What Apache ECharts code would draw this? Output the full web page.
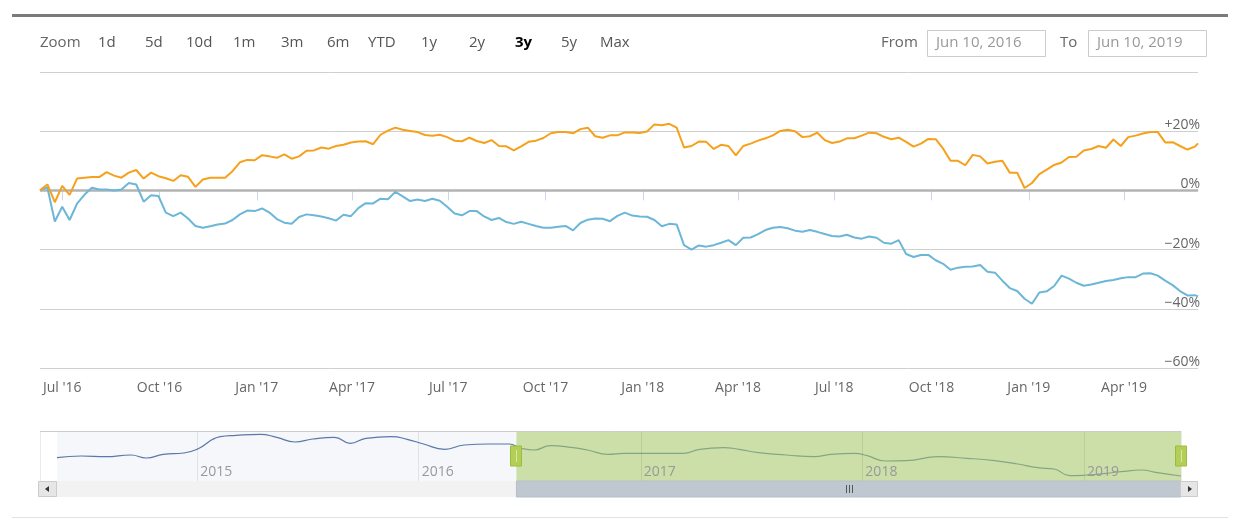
<!DOCTYPE html>
<html>
<head>
<meta charset="utf-8">
<title>Compare chart</title>
<script src="https://cdn.jsdelivr.net/npm/echarts@6/dist/echarts.min.js"></script>
<style>
  html, body { margin: 0; padding: 0; background: #fff; }
  #main { width: 1245px; height: 532px; }
</style>
</head>
<body>
<div id="main"></div>
<script>
// weekly closes, shown as % change from the first visible day
var DATES = [
  '2016-06-10','2016-06-17','2016-06-24','2016-07-01','2016-07-08','2016-07-15','2016-07-22','2016-07-29','2016-08-05','2016-08-12',
  '2016-08-19','2016-08-26','2016-09-02','2016-09-09','2016-09-16','2016-09-23','2016-09-30','2016-10-07','2016-10-14','2016-10-21',
  '2016-10-28','2016-11-04','2016-11-11','2016-11-18','2016-11-25','2016-12-02','2016-12-09','2016-12-16','2016-12-23','2016-12-30',
  '2017-01-06','2017-01-13','2017-01-20','2017-01-27','2017-02-03','2017-02-10','2017-02-17','2017-02-24','2017-03-03','2017-03-10',
  '2017-03-17','2017-03-24','2017-03-31','2017-04-07','2017-04-14','2017-04-21','2017-04-28','2017-05-05','2017-05-12','2017-05-19',
  '2017-05-26','2017-06-02','2017-06-09','2017-06-16','2017-06-23','2017-06-30','2017-07-07','2017-07-14','2017-07-21','2017-07-28',
  '2017-08-04','2017-08-11','2017-08-18','2017-08-25','2017-09-01','2017-09-08','2017-09-15','2017-09-22','2017-09-29','2017-10-06',
  '2017-10-13','2017-10-20','2017-10-27','2017-11-03','2017-11-10','2017-11-17','2017-11-24','2017-12-01','2017-12-08','2017-12-15',
  '2017-12-22','2017-12-29','2018-01-05','2018-01-12','2018-01-19','2018-01-26','2018-02-02','2018-02-09','2018-02-16','2018-02-23',
  '2018-03-02','2018-03-09','2018-03-16','2018-03-23','2018-03-30','2018-04-06','2018-04-13','2018-04-20','2018-04-27','2018-05-04',
  '2018-05-11','2018-05-18','2018-05-25','2018-06-01','2018-06-08','2018-06-15','2018-06-22','2018-06-29','2018-07-06','2018-07-13',
  '2018-07-20','2018-07-27','2018-08-03','2018-08-10','2018-08-17','2018-08-24','2018-08-31','2018-09-07','2018-09-14','2018-09-21',
  '2018-09-28','2018-10-05','2018-10-12','2018-10-19','2018-10-26','2018-11-02','2018-11-09','2018-11-16','2018-11-23','2018-11-30',
  '2018-12-07','2018-12-14','2018-12-21','2018-12-28','2019-01-04','2019-01-11','2019-01-18','2019-01-25','2019-02-01','2019-02-08',
  '2019-02-15','2019-02-22','2019-03-01','2019-03-08','2019-03-15','2019-03-22','2019-03-29','2019-04-05','2019-04-12','2019-04-19',
  '2019-04-26','2019-05-03','2019-05-10','2019-05-17','2019-05-24','2019-05-31','2019-06-07','2019-06-10'
];
var ORANGE = [
  0, 2, -4, 1.5, -1.5, 4, 4.3, 4.5, 4.5, 6.2,
  5, 4.3, 6, 6.9, 4, 6, 4.8, 4.1, 3.2, 5.1,
  4.6, 1.2, 3.7, 4.3, 4.3, 4.3, 6.5, 9.5, 10.3, 10.2,
  11.9, 11.5, 11, 12.2, 10.7, 11.5, 13.4, 13.5, 14.5, 14.1,
  15, 15.4, 16.2, 16.5, 16.6, 15.6, 18.8, 20.2, 21.2, 20.5,
  20.1, 19.7, 18.7, 18.5, 18.8, 18, 16.8, 16.6, 17.8, 16.7,
  16, 17, 15, 14.9, 13.5, 14.9, 16.4, 16.8, 17.7, 19.3,
  19.7, 19.7, 19.3, 20.7, 21.2, 18.3, 17.8, 18.6, 18.6, 19.6,
  19.6, 19.4, 19.9, 22.3, 22, 22.5, 21.2, 14.5, 15, 16.5,
  16.4, 14, 15.4, 15, 11.8, 15, 15.8, 16.8, 17.6, 18.6,
  20.1, 20.5, 20, 18, 18.3, 19.5, 17, 16, 16.5, 17.6,
  17.6, 18.5, 19.5, 19.3, 18.1, 17.3, 17.8, 16.4, 14.8, 15.8,
  17.4, 17.3, 14.1, 10, 10, 8.5, 12, 11.5, 9.1, 9.7,
  10, 6, 6, 0.8, 2.5, 5.5, 7, 8.6, 9.4, 11.3,
  11.4, 13.5, 14, 15, 14.4, 17.2, 15, 18, 18.5, 19.2,
  19.7, 19.7, 16.2, 16.3, 15, 13.8, 14.8, 15.9
];
var BLUE = [
  0, 1, -10.5, -5.5, -10, -4.5, -1.5, 0.9, 0.3, 0.3,
  0, 0.3, 2.5, 2, -3.8, -1.6, -1.9, -7.5, -8.7, -7.5,
  -9.5, -12, -12.6, -12.1, -11.5, -11.2, -10, -8.1, -6.8, -7,
  -6.1, -7.5, -9.7, -10.9, -11.3, -9, -8.1, -8.4, -8.8, -9.4,
  -10.2, -8.2, -8.7, -6, -4.3, -4.4, -2.8, -3, -0.5, -2,
  -3.6, -3.1, -3.6, -2.8, -3.5, -5.5, -7.8, -8.4, -7, -7,
  -8.8, -10, -9.3, -10.7, -11.3, -10.6, -11.3, -12, -12.6, -12.6,
  -12.3, -12, -13.5, -11, -9.9, -9.5, -9.6, -10.4, -8.6, -7.5,
  -8.5, -8.8, -8.9, -10, -12.1, -11.3, -11.5, -18.5, -20, -18.6,
  -19, -18.5, -17.7, -16.8, -18.5, -16, -15.9, -14.8, -13.4, -12.6,
  -12.4, -12.8, -13.6, -14, -13.4, -14, -14.7, -15.4, -15.6, -15,
  -15.9, -16.3, -15.6, -16, -17.7, -18, -16.8, -21.5, -22.5, -21.8,
  -21.8, -23.6, -24.8, -26.8, -26.1, -25.8, -25.7, -25.2, -27.5, -27.8,
  -30.5, -33, -34, -36.6, -38.3, -34.5, -34.1, -32.3, -28.8, -29.8,
  -31.2, -32.2, -31.8, -31.2, -30.6, -30.3, -29.7, -29.3, -29.3, -28.1,
  -28, -28.8, -30.5, -32, -34, -35.5, -35.4, -35.8
];

// navigator: grouped history of the first series (index units)
var NAV_DATES = [
  '2014-05-15','2014-06-24','2014-08-03','2014-09-14','2014-10-09','2014-11-06','2014-12-10',
  '2015-01-01','2015-02-08','2015-03-06','2015-04-15','2015-05-12','2015-06-11','2015-07-10','2015-08-15','2015-09-10','2015-10-06','2015-11-17','2015-12-13',
  '2016-01-09','2016-02-13','2016-03-16','2016-04-26','2016-05-29','2016-06-18','2016-07-09','2016-08-05','2016-09-08','2016-10-05','2016-11-08','2016-12-04',
  '2017-01-01','2017-03-12','2017-04-08','2017-05-17','2017-06-12','2017-07-14','2017-08-29','2017-10-14','2017-11-10','2017-12-19',
  '2018-01-09','2018-02-08','2018-03-14','2018-05-06','2018-06-22','2018-08-07','2018-09-14','2018-10-17','2018-11-13','2018-12-09',
  '2019-01-05','2019-02-07','2019-03-03','2019-04-06','2019-05-02','2019-06-10'
];
var NAV_VALUES = [
  46.6, 50, 48.6, 52, 46, 53.4, 56,
  63.4, 88.6, 91.4, 93.4, 87.4, 78, 84, 87.4, 75.4, 85.4, 88.6, 83.4,
  74, 63.4, 72, 74, 74, 65.4, 62, 70.6, 67.4, 62, 53.4, 55.4,
  55.4, 55.4, 63.4, 66.6, 63.4, 56.6, 52, 48.6, 53.4, 55.4,
  50.6, 40, 40.6, 48.6, 45.4, 40.6, 34, 26.6, 24, 10.6,
  12, 15.4, 18.6, 22, 16.6, 10
];
var NAV_START = '2014-04-17';
var FROM_DATE = '2016-06-10';
var TO_DATE = '2019-06-10';
var FROM_TEXT = 'Jun 10, 2016';
var TO_TEXT = 'Jun 10, 2019';

var Y_TICKS = [-60, -40, -20, 0, 20, 40];
var RANGE_BUTTONS = ['1d', '5d', '10d', '1m', '3m', '6m', 'YTD', '1y', '2y', '3y', '5y', 'Max'];
var SELECTED_BUTTON = '3y';
var MONTHS = ['Jan','Feb','Mar','Apr','May','Jun','Jul','Aug','Sep','Oct','Nov','Dec'];

// layout
var BUTTON_X = [98, 145, 186, 233, 281, 327, 368, 421, 469, 515, 561, 600];
var FONT = '"Open Sans", "DejaVu Sans", sans-serif';
var DAY = 86400000;
var MAIN_GRID = { left: 40, top: 72, width: 1158, height: 296 };
var NAV_GRID = { left: 40, top: 431, width: 1141, height: 50 };

function pairs(dates, values) {
    return dates.map(function (d, i) { return [d, values[i]]; });
}
function ts(s) {
    var p = s.split('-');
    return new Date(+p[0], +p[1] - 1, +p[2]).getTime();
}
function pctLabel(v) {
    if (v > 0) return '+' + v + '%';
    if (v < 0) return '\u2212' + Math.abs(v) + '%';
    return '0%';
}

var chart = echarts.init(document.getElementById('main'));

var option = {
    animation: false,
    backgroundColor: '#fff',
    textStyle: { fontFamily: FONT },
    grid: [
        { left: MAIN_GRID.left, top: MAIN_GRID.top, width: MAIN_GRID.width, height: MAIN_GRID.height },
        { left: NAV_GRID.left, top: NAV_GRID.top, width: NAV_GRID.width, height: NAV_GRID.height }
    ],
    xAxis: [{
        type: 'time',
        gridIndex: 0,
        min: FROM_DATE,
        max: TO_DATE,
        minInterval: 100 * DAY,
        maxInterval: 100 * DAY,
        axisLine: { show: true, lineStyle: { color: '#ccd6eb' } },
        axisTick: { show: true, length: 10, lineStyle: { color: '#ccd6eb' } },
        axisLabel: {
            color: '#666', fontSize: 14, margin: 13, hideOverlap: false,
            formatter: function (val) {
                var d = new Date(val);
                return MONTHS[d.getMonth()] + " '" + String(d.getFullYear()).slice(2);
            }
        },
        splitLine: { show: false }
    }, {
        type: 'time',
        gridIndex: 1,
        min: NAV_START,
        max: TO_DATE,
        minInterval: 365 * DAY,
        z: 6,
        axisLine: { show: false },
        axisTick: { show: false },
        axisLabel: {
            inside: true, align: 'left', verticalAlign: 'bottom', margin: 2,
            padding: [0, 0, 0, 3], color: '#999', fontSize: 14,
            formatter: function (val) { return String(new Date(val).getFullYear()); }
        },
        splitLine: { show: true, lineStyle: { color: 'rgba(0,0,0,0.08)' } }
    }],
    yAxis: [{
        type: 'value',
        gridIndex: 0,
        position: 'right',
        min: Y_TICKS[0],
        max: Y_TICKS[Y_TICKS.length - 1],
        interval: Y_TICKS[1] - Y_TICKS[0],
        axisLine: { show: false },
        axisTick: { show: false },
        axisLabel: {
            inside: true, margin: -2, verticalAlign: 'bottom', lineHeight: 12,
            color: '#666', fontSize: 14, showMaxLabel: false, formatter: pctLabel
        },
        splitLine: { lineStyle: { color: '#cfcfcf' } }
    }, {
        type: 'value',
        gridIndex: 1,
        min: 0,
        max: 100,
        show: false
    }],
    series: [{
        name: 'blue',
        type: 'line',
        xAxisIndex: 0,
        yAxisIndex: 0,
        data: pairs(DATES, BLUE),
        symbol: 'none',
        color: '#6cb6d8',
        lineStyle: { width: 2 },
        z: 2,
        markLine: {
            z: 1,
            silent: true,
            symbol: ['none', 'none'],
            label: { show: false },
            lineStyle: { color: '#b3b3b3', width: 2.5, type: 'solid' },
            data: [{ yAxis: 0 }]
        }
    }, {
        name: 'orange',
        type: 'line',
        xAxisIndex: 0,
        yAxisIndex: 0,
        data: pairs(DATES, ORANGE),
        symbol: 'none',
        color: '#f5a11c',
        lineStyle: { width: 2 },
        z: 3
    }, {
        name: 'navigator',
        type: 'line',
        xAxisIndex: 1,
        yAxisIndex: 1,
        data: pairs(NAV_DATES, NAV_VALUES),
        smooth: true,
        symbol: 'none',
        color: '#5a78a8',
        lineStyle: { width: 1.2 },
        silent: true,
        z: 2,
        markArea: {
            z: 1,
            silent: true,
            itemStyle: { color: '#f5f7fb' },
            data: [[{ xAxis: NAV_DATES[0] }, { xAxis: TO_DATE }]]
        }
    }, {
        name: 'mask',
        type: 'line',
        xAxisIndex: 1,
        yAxisIndex: 1,
        data: pairs(NAV_DATES, NAV_VALUES),
        symbol: 'none',
        lineStyle: { opacity: 0 },
        silent: true,
        z: 4,
        markArea: {
            z: 4,
            silent: true,
            itemStyle: { color: 'rgba(170,204,100,0.55)' },
            data: [[{ xAxis: FROM_DATE }, { xAxis: TO_DATE }]]
        }
    }]
};

chart.setOption(option);

// range selector, inputs, navigator handles and scrollbar
var fx = chart.convertToPixel({ xAxisIndex: 1 }, ts(FROM_DATE));
var tx = chart.convertToPixel({ xAxisIndex: 1 }, ts(TO_DATE));
var navMid = NAV_GRID.top + NAV_GRID.height / 2;
var sbY = NAV_GRID.top + NAV_GRID.height;
var sbLeft = 38, sbRight = 1198, sbH = 16;

var els = [];
els.push({ type: 'rect', shape: { x: 12, y: 14, width: 1216, height: 3 }, style: { fill: '#7b7b7b' } });
els.push({ type: 'line', shape: { x1: 12, y1: 517.5, x2: 1228, y2: 517.5 }, style: { stroke: '#e3e3e3', lineWidth: 1 } });

function txt(x, y, s, color, size, weight) {
    return {
        type: 'text', x: x, y: y,
        style: {
            text: s, fill: color, fontSize: size, fontFamily: FONT,
            fontWeight: weight || 'normal', verticalAlign: 'middle', textVerticalAlign: 'middle'
        }
    };
}
els.push(txt(40, 43, 'Zoom', '#666', 15));
RANGE_BUTTONS.forEach(function (b, i) {
    var sel = b === SELECTED_BUTTON;
    els.push(txt(BUTTON_X[i], 43, b, sel ? '#000' : '#555', 15, sel ? 'bold' : 'normal'));
});
els.push(txt(881, 43, 'From', '#666', 15));
els.push({ type: 'rect', shape: { x: 927.5, y: 30.5, width: 118, height: 26 }, style: { fill: '#fff', stroke: '#cccccc', lineWidth: 1 } });
els.push(txt(936, 43, FROM_TEXT, '#999', 15));
els.push(txt(1060, 43, 'To', '#666', 15));
els.push({ type: 'rect', shape: { x: 1088.5, y: 30.5, width: 118, height: 26 }, style: { fill: '#fff', stroke: '#cccccc', lineWidth: 1 } });
els.push(txt(1097, 43, TO_TEXT, '#999', 15));

// navigator outline
els.push({ type: 'line', z: 10, shape: { x1: NAV_GRID.left, y1: NAV_GRID.top + 0.5, x2: NAV_GRID.left + NAV_GRID.width, y2: NAV_GRID.top + 0.5 }, style: { stroke: '#cccccc', lineWidth: 1 } });

// scrollbar
els.push({ type: 'rect', z: 10, shape: { x: sbLeft, y: sbY, width: sbRight - sbLeft, height: sbH }, style: { fill: '#f2f2f2' } });
els.push({ type: 'rect', z: 11, shape: { x: fx, y: sbY, width: tx - fx, height: sbH }, style: { fill: '#bfc8d1', stroke: '#b5bfca', lineWidth: 1 } });
var gx = Math.round((fx + tx) / 2);
[-3, 0, 3].forEach(function (d) {
    els.push({ type: 'line', z: 12, shape: { x1: gx + d + 0.5, y1: sbY + 4, x2: gx + d + 0.5, y2: sbY + 12 }, style: { stroke: '#555', lineWidth: 1 } });
});
els.push({ type: 'rect', z: 12, shape: { x: sbLeft + 0.5, y: sbY + 0.5, width: 18, height: sbH - 1 }, style: { fill: '#e6e6e6', stroke: '#cccccc', lineWidth: 1 } });
els.push({ type: 'polygon', z: 13, shape: { points: [[sbLeft + 7, sbY + 8], [sbLeft + 11, sbY + 5], [sbLeft + 11, sbY + 11]] }, style: { fill: '#333' } });
els.push({ type: 'rect', z: 12, shape: { x: sbRight - 17.5, y: sbY + 0.5, width: 17, height: sbH - 1 }, style: { fill: '#e6e6e6', stroke: '#cccccc', lineWidth: 1 } });
els.push({ type: 'polygon', z: 13, shape: { points: [[sbRight - 6, sbY + 8], [sbRight - 10, sbY + 5], [sbRight - 10, sbY + 11]] }, style: { fill: '#333' } });

// navigator handles
[fx, tx].forEach(function (x) {
    els.push({ type: 'rect', z: 14, shape: { x: Math.round(x) - 5.5, y: navMid - 10, width: 11, height: 20 }, style: { fill: '#b3cf57', stroke: '#9cbc3c', lineWidth: 1 } });
    els.push({ type: 'line', z: 15, shape: { x1: Math.round(x) + 0.5, y1: navMid - 6, x2: Math.round(x) + 0.5, y2: navMid + 6 }, style: { stroke: '#d9e8a6', lineWidth: 1 } });
});

chart.setOption({ graphic: { elements: els } });
</script>
</body>
</html>
